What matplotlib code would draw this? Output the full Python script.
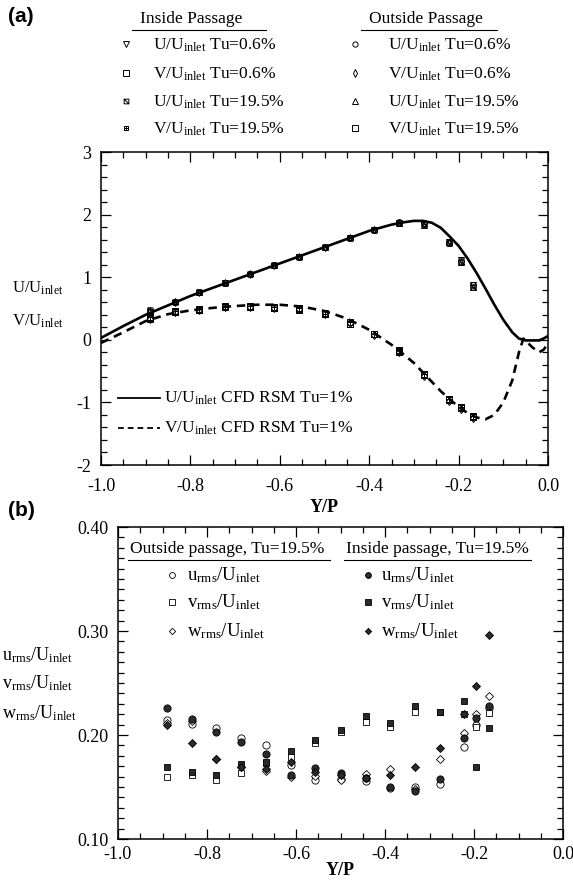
import matplotlib
matplotlib.use("Agg")
import matplotlib.pyplot as plt
from matplotlib.path import Path

plt.rcParams["font.family"] = ["Liberation Serif", "DejaVu Serif"]
plt.rcParams["mathtext.fontset"] = "custom"
plt.rcParams["mathtext.rm"] = "Liberation Serif"
plt.rcParams["mathtext.it"] = "Liberation Serif:italic"
plt.rcParams["mathtext.bf"] = "Liberation Serif:bold"

# ---------------- (a) mean velocity profiles ----------------
y_pos = [-0.89, -0.834, -0.78, -0.723, -0.667, -0.612, -0.557, -0.50,
         -0.443, -0.389, -0.333, -0.277, -0.222, -0.195, -0.167]

u_in_06 = [0.44, 0.59, 0.75, 0.90, 1.04, 1.18, 1.32, 1.47, 1.62, 1.75, 1.86, 1.84, 1.56, 1.27, 0.88]
v_in_06 = [0.33, 0.44, 0.47, 0.52, 0.53, 0.50, 0.48, 0.41, 0.26, 0.09, -0.19, -0.56, -0.96, -1.09, -1.24]
u_in_195 = [0.47, 0.61, 0.77, 0.91, 1.05, 1.19, 1.33, 1.48, 1.63, 1.76, 1.87, 1.85, 1.54, 1.24, 0.85]
v_in_195 = [0.36, 0.46, 0.49, 0.54, 0.54, 0.52, 0.50, 0.42, 0.28, 0.10, -0.17, -0.54, -0.94, -1.07, -1.22]
u_out_06 = [0.45, 0.60, 0.76, 0.90, 1.05, 1.19, 1.32, 1.48, 1.63, 1.76, 1.88, 1.86, 1.55, 1.26, 0.87]
v_out_06 = [0.34, 0.45, 0.48, 0.53, 0.53, 0.51, 0.49, 0.42, 0.27, 0.08, -0.20, -0.58, -0.97, -1.11, -1.25]
u_out_195 = [0.48, 0.62, 0.77, 0.92, 1.06, 1.20, 1.34, 1.49, 1.64, 1.77, 1.87, 1.84, 1.57, 1.25, 0.84]
v_out_195 = [0.35, 0.45, 0.48, 0.53, 0.52, 0.51, 0.49, 0.43, 0.26, 0.09, -0.18, -0.55, -0.95, -1.08, -1.23]

# CFD (RSM, Tu=1%) profiles
cfd_u_y = [-1.0, -0.95, -0.9, -0.85, -0.8, -0.75, -0.7, -0.65, -0.6, -0.55, -0.5, -0.45,
           -0.4, -0.35, -0.32, -0.3, -0.28, -0.26, -0.24, -0.22, -0.2, -0.18, -0.16,
           -0.14, -0.12, -0.1, -0.08, -0.065, -0.05, -0.035, -0.02, -0.01, 0.0]
cfd_u = [0.03, 0.22, 0.40, 0.55, 0.70, 0.83, 0.96, 1.09, 1.22, 1.35, 1.48, 1.61,
         1.74, 1.84, 1.88, 1.90, 1.90, 1.87, 1.79, 1.65, 1.50, 1.30, 1.07,
         0.82, 0.56, 0.32, 0.12, 0.02, -0.01, -0.01, -0.01, 0.02, 0.06]
cfd_v_y = [-1.0, -0.95, -0.9, -0.85, -0.8, -0.75, -0.7, -0.65, -0.6, -0.55, -0.5, -0.45,
           -0.4, -0.35, -0.32, -0.3, -0.28, -0.26, -0.24, -0.22, -0.2, -0.18, -0.16,
           -0.14, -0.12, -0.1, -0.08, -0.065, -0.055, -0.045, -0.035, -0.02, -0.01, 0.0]
cfd_v = [-0.05, 0.12, 0.30, 0.41, 0.47, 0.51, 0.54, 0.56, 0.56, 0.53, 0.46, 0.34,
         0.16, -0.08, -0.25, -0.37, -0.52, -0.67, -0.82, -0.95, -1.07, -1.17, -1.24,
         -1.27, -1.20, -1.00, -0.65, -0.20, 0.02, -0.05, -0.12, -0.20, -0.16, -0.06]

# ---------------- (b) rms fluctuations, Tu=19.5% ----------------
urms_out = [0.214, 0.211, 0.2065, 0.197, 0.190, 0.171, 0.157, 0.158, 0.1558, 0.149, 0.150, 0.153, 0.188, 0.210, 0.226]
vrms_out = [0.160, 0.1615, 0.157, 0.163, 0.173, 0.1785, 0.192, 0.203, 0.2128, 0.2074, 0.2218, 0.2218, 0.220, 0.2075, 0.2215]
wrms_out = [0.212, 0.213, 0.177, 0.169, 0.1657, 0.160, 0.161, 0.1567, 0.1625, 0.167, 0.148, 0.1767, 0.2016, 0.2202, 0.2378]
urms_in = [0.2257, 0.2157, 0.203, 0.1935, 0.1817, 0.1615, 0.1685, 0.1638, 0.159, 0.150, 0.146, 0.158, 0.1974, 0.216, 0.228]
vrms_in = [0.1695, 0.164, 0.1615, 0.172, 0.1745, 0.1846, 0.195, 0.2048, 0.2183, 0.2112, 0.228, 0.2218, 0.2327, 0.1695, 0.2065]
wrms_in = [0.210, 0.192, 0.177, 0.1695, 0.167, 0.174, 0.1647, 0.1615, 0.159, 0.162, 0.169, 0.1878, 0.220, 0.2471, 0.296]

x_ticks = [-1.0, -0.8, -0.6, -0.4, -0.2, 0.0]
x_ticklabels = ["-1.0", "-0.8", "-0.6", "-0.4", "-0.2", "0.0"]
a_yticks = [-2, -1, 0, 1, 2, 3]
a_yticklabels = ["-2", "-1", "0", "1", "2", "3"]
b_yticks = [0.10, 0.20, 0.30, 0.40]
b_yticklabels = ["0.10", "0.20", "0.30", "0.40"]

# box markers with a diagonal / a cross inside
box_diag = Path([(-1, -1), (1, -1), (1, 1), (-1, 1), (-1, -1), (-1, 1), (1, -1)],
                [Path.MOVETO, Path.LINETO, Path.LINETO, Path.LINETO, Path.LINETO,
                 Path.MOVETO, Path.LINETO])
box_plus = Path([(-1, -1), (1, -1), (1, 1), (-1, 1), (-1, -1), (0, -1), (0, 1), (-1, 0), (1, 0)],
                [Path.MOVETO, Path.LINETO, Path.LINETO, Path.LINETO, Path.LINETO,
                 Path.MOVETO, Path.LINETO, Path.MOVETO, Path.LINETO])

W, H = 573, 880
fig = plt.figure(figsize=(W / 100, H / 100), dpi=100)


def px_axes(left, top, right, bottom, **kw):
    return fig.add_axes([left / W, 1 - bottom / H, (right - left) / W, (bottom - top) / H], **kw)


ax_a = px_axes(101, 152, 548, 465)
ax_b = px_axes(118, 527, 563, 839)
over = px_axes(0, 0, W, H, zorder=5)
over.set_xlim(0, W)
over.set_ylim(H, 0)
over.axis("off")
over.patch.set_alpha(0)

for ax in (ax_a, ax_b):
    ax.tick_params(which="both", direction="in", top=True, right=True, width=0.9, labelsize=13)
    ax.tick_params(which="major", length=7)
    ax.tick_params(which="minor", length=4)
    for s in ax.spines.values():
        s.set_linewidth(1.1)
    ax.set_xlim(-1.0, 0.0)
    ax.set_xticks(x_ticks)
    ax.set_xticklabels(x_ticklabels)
    ax.set_xticks([v / 20 - 1 for v in range(21)], minor=True)

ax_a.tick_params(axis="x", pad=9)
ax_a.tick_params(axis="y", pad=7)
ax_b.tick_params(axis="x", pad=5)
ax_b.tick_params(axis="y", pad=7)

# ---- panel (a)
ax_a.set_ylim(-2, 3)
ax_a.set_yticks(a_yticks)
ax_a.set_yticklabels(a_yticklabels)
ax_a.set_yticks([-2 + 0.2 * k for k in range(26)], minor=True)
ax_a.plot(cfd_u_y, cfd_u, color="black", lw=1.9, zorder=2)
ax_a.plot(cfd_v_y, cfd_v, color="black", lw=1.9, ls=(0, (3.2, 2.2)), zorder=2)

mk = dict(color="black", markerfacecolor="none", markeredgewidth=0.7, ls="none", zorder=3)
ms = 5.0
series_a = [
    (u_in_06, "v", ms), (v_in_06, "s", ms - 0.6), (u_in_195, box_diag, ms - 1.2), (v_in_195, box_plus, ms - 1.2),
    (u_out_06, "o", ms - 0.8), (v_out_06, "d", ms - 0.6), (u_out_195, "^", ms), (v_out_195, "s", ms),
]
for vals, m, s in series_a:
    ax_a.plot(y_pos, vals, marker=m, markersize=s, **mk)

ax_a.text(0.5, -0.135, "Y/P", transform=ax_a.transAxes, ha="center", va="center",
          fontsize=13, fontweight="bold")

# ---- panel (b)
ax_b.set_ylim(0.10, 0.40)
ax_b.set_yticks(b_yticks)
ax_b.set_yticklabels(b_yticklabels)
ax_b.set_yticks([0.10 + 0.01 * k for k in range(31)], minor=True)
open_kw = dict(color="black", markerfacecolor="white", markeredgewidth=0.6, ls="none", zorder=3)
fill_kw = dict(color="black", markerfacecolor="#2a2a2a", markeredgecolor="black",
               markeredgewidth=0.6, ls="none", zorder=4)
ax_b.plot(y_pos, urms_out, marker="o", markersize=5.2, **open_kw)
ax_b.plot(y_pos, vrms_out, marker="s", markersize=5.0, **open_kw)
ax_b.plot(y_pos, wrms_out, marker="D", markersize=4.0, **open_kw)
ax_b.plot(y_pos, urms_in, marker="o", markersize=5.2, **fill_kw)
ax_b.plot(y_pos, vrms_in, marker="s", markersize=5.0, **fill_kw)
ax_b.plot(y_pos, wrms_in, marker="D", markersize=4.0, **fill_kw)

ax_b.text(0.5, -0.1, "Y/P", transform=ax_b.transAxes, ha="center", va="center",
          fontsize=13, fontweight="bold")

# ---------------- annotations in pixel coordinates ----------------
over.text(8, 22, "(a)", family="Liberation Sans", fontweight="bold", fontsize=15, ha="left", va="baseline")
over.text(8, 516, "(b)", family="Liberation Sans", fontweight="bold", fontsize=15, ha="left", va="baseline")

UI = r"U/U$_{\mathrm{inlet}}$"
VI = r"V/U$_{\mathrm{inlet}}$"

# (a) experimental legend
over.text(191, 23, "Inside Passage", fontsize=12.5, ha="center", va="baseline")
over.plot([132, 266], [30, 30], color="black", lw=0.8)
over.text(426, 23, "Outside Passage", fontsize=12.5, ha="center", va="baseline")
over.plot([361, 497], [30, 30], color="black", lw=0.8)

rows = [50, 79, 107, 134]
left_items = [("v", 4.2, UI + " Tu=0.6%"), ("s", 3.8, VI + " Tu=0.6%"),
              (box_diag, 3.4, UI + " Tu=19.5%"), (box_plus, 3.4, VI + " Tu=19.5%")]
right_items = [("o", 3.8, UI + " Tu=0.6%"), ("d", 3.8, VI + " Tu=0.6%"),
               ("^", 4.2, UI + " Tu=19.5%"), ("s", 3.8, VI + " Tu=19.5%")]
for y, (m, s, lab) in zip(rows, left_items):
    over.plot([126], [y - 6], marker=m, markersize=s, **mk)
    over.text(153, y, lab, fontsize=12.5, ha="left", va="baseline")
for y, (m, s, lab) in zip(rows, right_items):
    over.plot([355], [y - 6], marker=m, markersize=s, **mk)
    over.text(388, y, lab, fontsize=12.5, ha="left", va="baseline")

# (a) CFD legend
over.plot([118, 160], [398, 398], color="black", lw=1.3)
over.text(164, 403, UI + " CFD RSM Tu=1%", fontsize=12.5, ha="left", va="baseline")
over.plot([118, 160], [428, 428], color="black", lw=1.3, ls=(0, (3.2, 2.2)))
over.text(164, 433, VI + " CFD RSM Tu=1%", fontsize=12.5, ha="left", va="baseline")

# (a) axis quantity labels
over.text(12, 293, UI, fontsize=12, ha="left", va="baseline")
over.text(12, 326, VI, fontsize=12, ha="left", va="baseline")

# (b) legend
over.text(130, 553, "Outside passage, Tu=19.5%", fontsize=12.5, ha="left", va="baseline")
over.plot([128, 330], [560, 560], color="black", lw=0.8)
over.text(346, 553, "Inside passage, Tu=19.5%", fontsize=12.5, ha="left", va="baseline")
over.plot([344, 531], [560, 560], color="black", lw=0.8)

URMS = r"u$_{\mathrm{rms}}$/U$_{\mathrm{inlet}}$"
VRMS = r"v$_{\mathrm{rms}}$/U$_{\mathrm{inlet}}$"
WRMS = r"w$_{\mathrm{rms}}$/U$_{\mathrm{inlet}}$"
brows = [580, 607, 636]
b_left = [("o", 4.2), ("s", 4.0), ("D", 3.2)]
b_right = [("o", 4.2), ("s", 4.0), ("D", 3.2)]
for y, (m, s), lab in zip(brows, b_left, [URMS, VRMS, WRMS]):
    over.plot([172], [y - 5], marker=m, markersize=s, **open_kw)
    over.text(187, y, lab, fontsize=13.5, ha="left", va="baseline")
for y, (m, s), lab in zip(brows, b_right, [URMS, VRMS, WRMS]):
    over.plot([368], [y - 5], marker=m, markersize=s, **fill_kw)
    over.text(381, y, lab, fontsize=13.5, ha="left", va="baseline")

# (b) axis quantity labels
for y, lab in zip([660, 688, 718], [URMS, VRMS, WRMS]):
    over.text(2, y, lab, fontsize=13, ha="left", va="baseline")

fig.savefig("out.png", dpi=100, facecolor="white")
